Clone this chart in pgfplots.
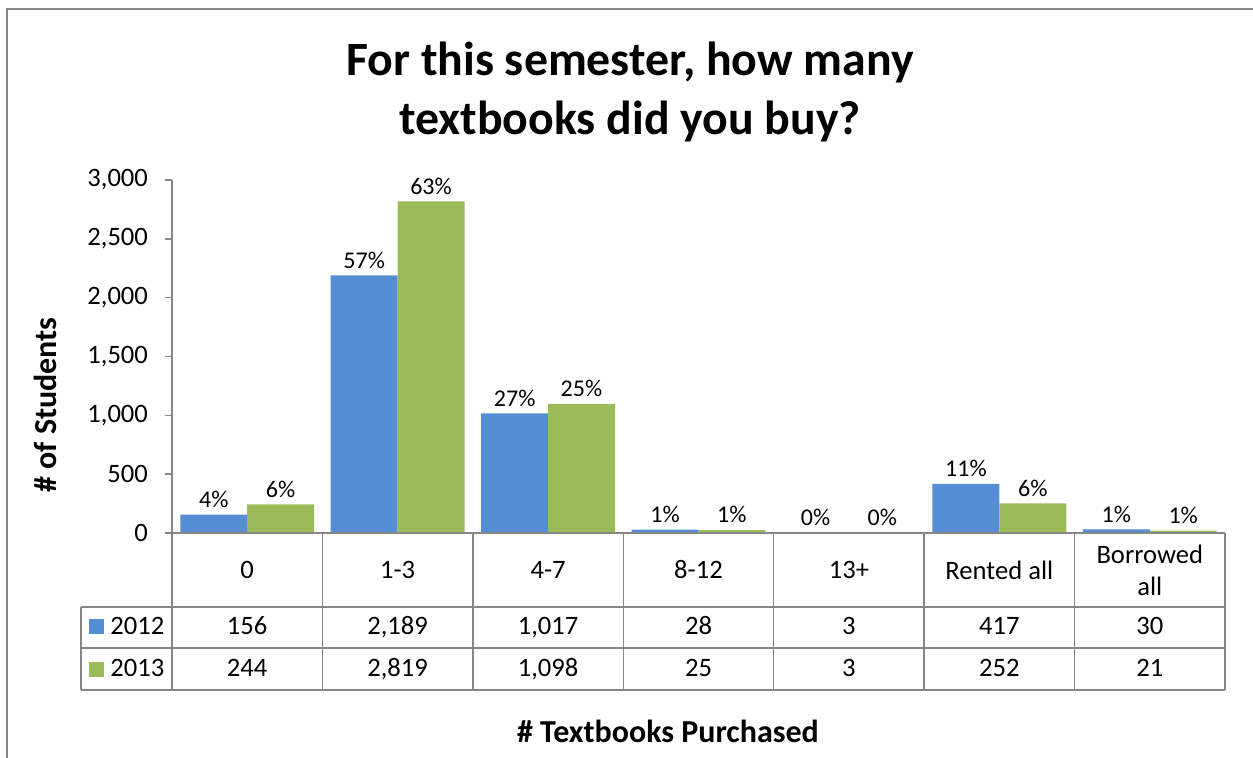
\documentclass[border=0pt]{standalone}
\usepackage{pgfplots}
\pgfplotsset{compat=1.18}
\usepackage{pgfplotstable}
\usepackage{fontspec}
\setmainfont{Carlito}
\definecolor{c12}{RGB}{85,142,213}
\definecolor{c13}{RGB}{155,187,89}
\definecolor{lg}{RGB}{134,134,134}
\pgfplotstableread{
x a b pa pb
0 156 244 4 6
1 2189 2819 57 63
2 1017 1098 27 25
3 28 25 1 1
4 3 3 0 0
5 417 252 11 6
6 30 21 1 1
}\data
\begin{document}
\begin{tikzpicture}
\path[use as bounding box] (-86pt,-112pt) rectangle (540.5pt,266.5pt);
\draw[lg, line width=1pt] (-82.5pt,-113pt) -- (-82.5pt,262pt) -- (541pt,262pt);
\begin{axis}[
  at={(0pt,0pt)}, anchor=south west,
  scale only axis, width=526.5pt, height=176.5pt,
  xmin=-0.5, xmax=6.5, ymin=0, ymax=3000,
  clip=false,
  axis lines*=left,
  axis line style={lg, line width=0.75pt, -},
  ytick={0,500,...,3000},
  ytick style={lg, line width=0.75pt},
  tick align=outside,
  major tick length=3.5pt,
  yticklabel style={xshift=-5pt},
  xtick={0,...,6},
  xtick style={draw=none},
  xticklabels={0,1-3,4-7,8-12,13+,Rented all,{Borrowed\\all}},
  xticklabel style={align=center, anchor=center, yshift=-15pt},
  ticklabel style={font=\fontsize{13.3}{16}\selectfont},
  /pgf/number format/.cd, 1000 sep={,}, assume math mode=true,
]
\addplot[ybar, bar width=0.445, bar shift=-0.2225, fill=c12, draw=none,
  point meta=explicit symbolic, nodes near coords={\pgfplotspointmeta\%},
  every node near coord/.append style={font=\fontsize{12}{14}\selectfont, text=black, xshift=-16.7pt}]
  table[x=x, y=a, meta=pa]{\data};
\addplot[ybar, bar width=0.445, bar shift=0.2225, fill=c13, draw=none,
  point meta=explicit symbolic, nodes near coords={\pgfplotspointmeta\%},
  every node near coord/.append style={font=\fontsize{12}{14}\selectfont, text=black, xshift=16.7pt}]
  table[x=x, y=b, meta=pb]{\data};
% data table values
\addplot[draw=none, mark=none, point meta=explicit, nodes near coords,
  every node near coord/.append style={anchor=base, inner sep=0pt, font=\fontsize{13.3}{14}\selectfont, text=black}]
  table[x=x, y expr=-862, meta=a]{\data};
\addplot[draw=none, mark=none, point meta=explicit, nodes near coords,
  every node near coord/.append style={anchor=base, inner sep=0pt, font=\fontsize{13.3}{14}\selectfont, text=black}]
  table[x=x, y expr=-1220, meta=b]{\data};
% table grid
\draw[lg, line width=0.75pt] (axis cs:-0.5,0) -- (axis cs:6.5,0);
\draw[lg, line width=0.75pt] (axis cs:-1.105,-629) -- (axis cs:6.5,-629);
\draw[lg, line width=0.75pt] (axis cs:-1.105,-977) -- (axis cs:6.5,-977);
\draw[lg, line width=0.75pt] (axis cs:-1.105,-1334) -- (axis cs:6.5,-1334);
\draw[lg, line width=0.75pt] (axis cs:-1.105,-629) -- (axis cs:-1.105,-1334);
\foreach \i in {-0.5,0.5,1.5,2.5,3.5,4.5,5.5,6.5}{
  \edef\tmp{\noexpand\draw[lg, line width=0.75pt] (axis cs:\i,0) -- (axis cs:\i,-1334);}\tmp
}
\node[anchor=base west, inner sep=0pt, font=\fontsize{13.3}{14}\selectfont] at (axis cs:-1.052,-862) {\textcolor{c12}{\rule{7.5pt}{7.5pt}}\hspace{3pt}2012};
\node[anchor=base west, inner sep=0pt, font=\fontsize{13.3}{14}\selectfont] at (axis cs:-1.052,-1220) {\textcolor{c13}{\rule{7.5pt}{7.5pt}}\hspace{3pt}2013};
% labels
\node[rotate=90, font=\fontsize{16}{18}\selectfont\bfseries] at (axis description cs:-0.1206,0.363) {\# of Students};
\node[font=\fontsize{16}{18}\selectfont\bfseries] at (axis description cs:0.471,-0.561) {\# Textbooks Purchased};
\node[align=center, font=\fontsize{23.9}{29.5}\selectfont\bfseries] at (axis description cs:0.435,1.249) {For this semester, how many\\textbooks did you buy?};
\end{axis}
\end{tikzpicture}
\end{document}
